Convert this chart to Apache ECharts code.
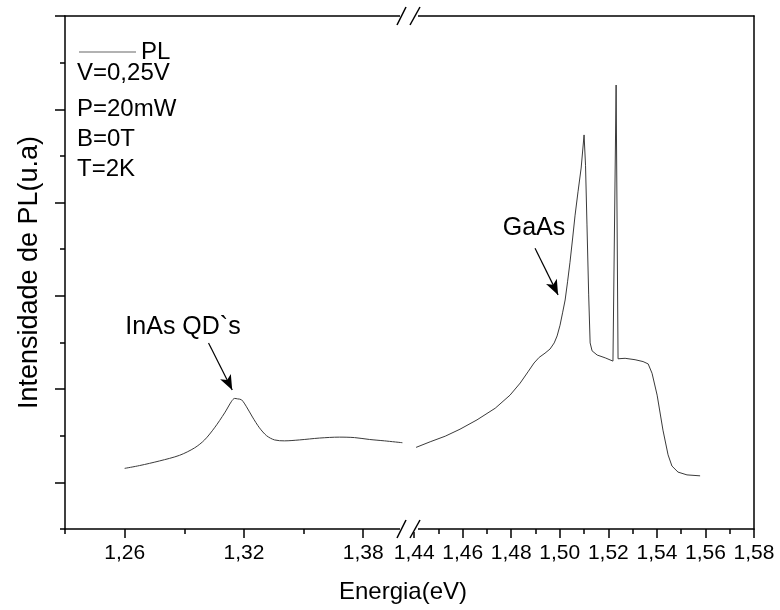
<!DOCTYPE html>
<html>
<head>
<meta charset="utf-8">
<script src="https://cdn.jsdelivr.net/npm/echarts@6/dist/echarts.min.js"></script>
<style>
html,body{margin:0;padding:0;background:#fff;}
#chart{width:780px;height:610px;}
</style>
</head>
<body>
<div id="chart"></div>
<script>
// ---- data ----
const leftEnergy = [1.2600,1.2675,1.2776,1.2876,1.2952,1.3002,1.3052,1.3103,1.3138,1.3153,1.3168,1.3188,1.3213,1.3243,1.3278,1.3314,1.3354,1.3404,1.3479,1.3580,1.3680,1.3756,1.3831,1.3907,1.3997];
const leftIntensity = [1.30,1.36,1.46,1.58,1.74,1.91,2.17,2.49,2.74,2.80,2.79,2.77,2.62,2.40,2.17,2.00,1.91,1.89,1.91,1.95,1.97,1.96,1.92,1.89,1.85];
const rightEnergy = [1.4408,1.4466,1.4528,1.4589,1.4659,1.4734,1.4795,1.4837,1.4869,1.4894,1.4915,1.4939,1.4960,1.4977,1.4989,1.5001,1.5012,1.5022,1.5032,1.5042,1.5053,1.5063,1.5075,1.5088,1.5100,1.5106,1.5112,1.5119,1.5125,1.5133,1.5154,1.5187,1.5219,1.5224,1.5232,1.5240,1.5269,1.5310,1.5343,1.5364,1.5380,1.5401,1.5425,1.5446,1.5462,1.5487,1.5524,1.5578];
const rightIntensity = [1.75,1.87,1.99,2.14,2.34,2.59,2.87,3.13,3.37,3.56,3.68,3.77,3.86,3.99,4.14,4.37,4.65,4.91,5.30,5.72,6.24,6.73,7.23,7.74,8.45,7.80,6.52,5.02,3.99,3.82,3.73,3.67,3.60,3.59,9.52,3.65,3.66,3.63,3.59,3.54,3.34,2.87,2.12,1.59,1.35,1.22,1.16,1.14];
const leftMajorTicks = [1.26,1.32,1.38];
const leftMinorTicks = [1.23,1.29,1.35];
const rightMajorTicks = [1.44,1.46,1.48,1.50,1.52,1.54,1.56,1.58];
const rightMinorTicks = [1.45,1.47,1.49,1.51,1.53,1.55,1.57];
const yMajorTicks = [1,3,5,7,9,11];
const yMinorTicks = [0,2,4,6,8,10];
const infoLines = ['V=0,25V','P=20mW','B=0T','T=2K'];

const zip = (a,b) => a.map((v,i)=>[v,b[i]]);
const fmt = v => v.toFixed(2).replace('.', ',');

const FONT = '"Liberation Sans", Arial, sans-serif';
const G = {top:16, height:513};
const LEFT = {left:65, width:338};
const RIGHT = {left:402, width:352};
const LMIN = 1.23, LMAX = 1.40, RMIN = 1.435, RMAX = 1.58;
const axisLine = {show:true, lineStyle:{color:'#000', width:1.5}};
const LINE_COLOR = '#3a3a3a';

const chart = echarts.init(document.getElementById('chart'), null, {renderer:'canvas'});

const option = {
  animation:false,
  backgroundColor:'#fff',
  grid:[
    Object.assign({}, LEFT, G),
    Object.assign({}, RIGHT, G),
    Object.assign({}, LEFT, G),
    Object.assign({}, RIGHT, G)
  ],
  legend:{
    data:['PL'], left:74, top:35, icon:'rect', itemWidth:57, itemHeight:1, itemGap:5,
    itemStyle:{color:'#666'},
    textStyle:{fontFamily:FONT, fontSize:24, color:'#000'}
  },
  xAxis:[
    {gridIndex:0, type:'value', position:'bottom', min:LMIN, max:LMAX,
     axisLine:axisLine, splitLine:{show:false},
     axisTick:{show:true, inside:false, length:9, lineStyle:{color:'#000',width:1.5}, customValues:leftMajorTicks},
     axisLabel:{show:true, customValues:leftMajorTicks, formatter:fmt, margin:14, fontFamily:FONT, fontSize:21, color:'#000'}},
    {gridIndex:0, type:'value', position:'top', min:LMIN, max:LMAX,
     axisLine:axisLine, splitLine:{show:false}, axisTick:{show:false}, axisLabel:{show:false}},
    {gridIndex:1, type:'value', position:'bottom', min:RMIN, max:RMAX,
     axisLine:axisLine, splitLine:{show:false},
     axisTick:{show:true, inside:false, length:9, lineStyle:{color:'#000',width:1.5}, customValues:rightMajorTicks},
     axisLabel:{show:true, customValues:rightMajorTicks, formatter:fmt, margin:14, fontFamily:FONT, fontSize:21, color:'#000'}},
    {gridIndex:1, type:'value', position:'top', min:RMIN, max:RMAX,
     axisLine:axisLine, splitLine:{show:false}, axisTick:{show:false}, axisLabel:{show:false}},
    {gridIndex:2, type:'value', position:'bottom', min:LMIN, max:LMAX,
     axisLine:{show:false}, splitLine:{show:false},
     axisTick:{show:true, inside:false, length:5, lineStyle:{color:'#000',width:1.5}, customValues:leftMinorTicks},
     axisLabel:{show:false}},
    {gridIndex:3, type:'value', position:'bottom', min:RMIN, max:RMAX,
     axisLine:{show:false}, splitLine:{show:false},
     axisTick:{show:true, inside:false, length:5, lineStyle:{color:'#000',width:1.5}, customValues:rightMinorTicks},
     axisLabel:{show:false}}
  ],
  yAxis:[
    {gridIndex:0, type:'value', position:'left', min:0, max:11,
     name:'Intensidade de PL(u.a)', nameLocation:'middle', nameGap:22,
     nameTextStyle:{fontFamily:FONT, fontSize:27, color:'#000'},
     axisLine:axisLine, splitLine:{show:false},
     axisTick:{show:true, inside:false, length:10, lineStyle:{color:'#000',width:1.5}, customValues:yMajorTicks},
     axisLabel:{show:false}},
    {gridIndex:1, type:'value', position:'right', min:0, max:11,
     axisLine:axisLine, splitLine:{show:false}, axisTick:{show:false}, axisLabel:{show:false}},
    {gridIndex:2, type:'value', position:'left', min:0, max:11,
     axisLine:{show:false}, splitLine:{show:false},
     axisTick:{show:true, inside:false, length:5, lineStyle:{color:'#000',width:1.5}, customValues:yMinorTicks},
     axisLabel:{show:false}},
    {gridIndex:3, type:'value', show:false, min:0, max:11}
  ],
  series:[
    {name:'PL', type:'line', xAxisIndex:0, yAxisIndex:0, data:zip(leftEnergy,leftIntensity),
     symbol:'none', smooth:0.3,
     lineStyle:{color:LINE_COLOR, width:1}, itemStyle:{color:LINE_COLOR},
     markLine:{silent:true, symbol:['none','arrow'], symbolSize:[9,15],
       lineStyle:{color:'#000', width:1.2, type:'solid'}, label:{show:false},
       data:[[{coord:[1.3022,3.99]},{coord:[1.3141,2.98]}]]}},
    {name:'PL', type:'line', xAxisIndex:2, yAxisIndex:1, data:zip(rightEnergy,rightIntensity),
     symbol:'none', smooth:false,
     lineStyle:{color:LINE_COLOR, width:1}, itemStyle:{color:LINE_COLOR},
     markLine:{silent:true, symbol:['none','arrow'], symbolSize:[9,15],
       lineStyle:{color:'#000', width:1.2, type:'solid'}, label:{show:false},
       data:[[{coord:[1.4898,6.02]},{coord:[1.4993,5.02]}]]}}
  ],
  graphic:[]
};

// text annotations
const gfx = [];
const infoY = [73, 109, 139.5, 169];
infoLines.forEach((t,i)=>gfx.push({type:'text', x:77, y:infoY[i], z:100,
  style:{text:t, fontFamily:FONT, fontSize:24, fill:'#000', verticalAlign:'middle'}}));
gfx.push({type:'text', x:183, y:327, z:100, style:{text:'InAs QD`s', fontFamily:FONT, fontSize:25, fill:'#000', align:'center', verticalAlign:'middle'}});
gfx.push({type:'text', x:534, y:228, z:100, style:{text:'GaAs', fontFamily:FONT, fontSize:25, fill:'#000', align:'center', verticalAlign:'middle'}});
gfx.push({type:'text', x:403, y:592, z:100, style:{text:'Energia(eV)', fontFamily:FONT, fontSize:24, fill:'#000', align:'center', verticalAlign:'middle'}});
// axis break marks (top and bottom)
[G.top, G.top+G.height].forEach(y=>{
  gfx.push({type:'rect', z:100, shape:{x:400, y:y-3, width:18, height:6}, style:{fill:'#fff'}});
  gfx.push({type:'line', z:101, shape:{x1:397, y1:y+9, x2:406, y2:y-9}, style:{stroke:'#000', lineWidth:1.5}});
  gfx.push({type:'line', z:101, shape:{x1:410, y1:y+9, x2:420, y2:y-9}, style:{stroke:'#000', lineWidth:1.5}});
});
option.graphic = gfx;
chart.setOption(option);
</script>
</body>
</html>
